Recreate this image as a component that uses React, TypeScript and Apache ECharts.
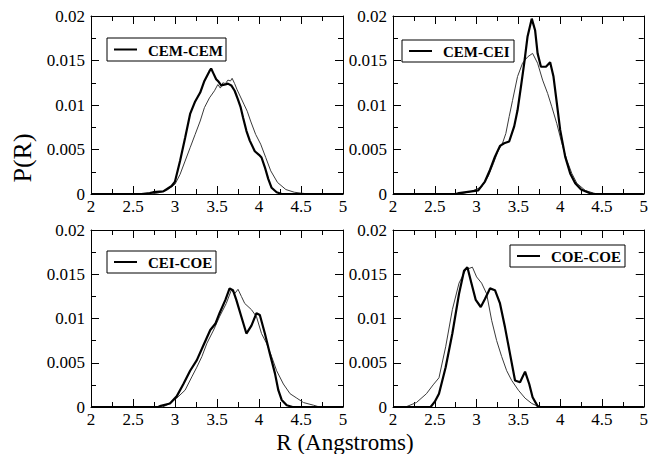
import React, { useEffect, useRef } from "react";
import * as echarts from "echarts";

// Panel labels (legend text for each panel)
const panelLabels = ["CEM-CEM", "CEM-CEI", "CEI-COE", "COE-COE"];

// Axis ranges / ticks
const xMin = 2;
const xMax = 5;
const xInterval = 0.5;
const yMin = 0;
const yMax = 0.02;
const yInterval = 0.005;

// Panel 1: CEM-CEM   [R, P(R)]
const cemCemThick: number[][] = [
  [2.0, 0], [2.6, 0], [2.7, 0.0001], [2.74, 0.0002], [2.86, 0.0003], [2.96, 0.0009], [3.0, 0.0014],
  [3.06, 0.0037], [3.12, 0.0063], [3.18, 0.009], [3.24, 0.0104], [3.3, 0.0114], [3.35, 0.0127],
  [3.41, 0.0138], [3.43, 0.0141], [3.46, 0.0135], [3.49, 0.0129], [3.52, 0.0126], [3.55, 0.0122],
  [3.6, 0.0123], [3.63, 0.0124], [3.67, 0.0122], [3.71, 0.0116], [3.75, 0.0106], [3.78, 0.0098],
  [3.81, 0.0086], [3.85, 0.0071], [3.89, 0.006], [3.95, 0.0048], [4.0, 0.0044], [4.03, 0.0041],
  [4.07, 0.003], [4.11, 0.0017], [4.15, 0.0007], [4.21, 0.0002], [4.27, 0], [5.0, 0],
];
const cemCemThin: number[][] = [
  [2.0, 0], [2.7, 0], [2.79, 0.0001], [2.9, 0.0004], [3.0, 0.0011], [3.06, 0.0022], [3.12, 0.0037],
  [3.18, 0.0052], [3.24, 0.0067], [3.3, 0.0082], [3.35, 0.0097], [3.41, 0.0108], [3.47, 0.0116],
  [3.51, 0.0123], [3.54, 0.0119], [3.57, 0.0125], [3.6, 0.0124], [3.63, 0.0128], [3.66, 0.0127],
  [3.68, 0.013], [3.71, 0.0124], [3.74, 0.0117], [3.78, 0.0109], [3.82, 0.0101], [3.86, 0.0093],
  [3.9, 0.0082], [3.96, 0.0067], [4.02, 0.0056], [4.08, 0.0041], [4.14, 0.0026], [4.22, 0.0013],
  [4.32, 0.0005], [4.42, 0.0002], [4.5, 0.0001], [4.6, 0], [5.0, 0],
];

// Panel 2: CEM-CEI
const cemCeiThick: number[][] = [
  [2.0, 0], [2.75, 0], [2.79, 0.0001], [2.94, 0.0003], [3.02, 0.0004], [3.1, 0.0014], [3.16, 0.0027],
  [3.22, 0.0042], [3.28, 0.0054], [3.33, 0.0057], [3.39, 0.0059], [3.45, 0.0076], [3.49, 0.0094],
  [3.53, 0.012], [3.57, 0.0147], [3.61, 0.0177], [3.66, 0.0197], [3.7, 0.0184], [3.73, 0.0158],
  [3.77, 0.0143], [3.83, 0.0143], [3.88, 0.0148], [3.92, 0.0132], [3.96, 0.0102], [4.0, 0.0072],
  [4.06, 0.0042], [4.12, 0.0023], [4.18, 0.0012], [4.25, 0.0005], [4.35, 0.0001], [4.4, 0], [5.0, 0],
];
const cemCeiThin: number[][] = [
  [2.0, 0], [2.8, 0], [2.94, 0.0003], [3.06, 0.0008], [3.14, 0.002], [3.2, 0.0034], [3.26, 0.0049],
  [3.31, 0.0057], [3.35, 0.0068], [3.39, 0.0087], [3.43, 0.0105], [3.49, 0.0132], [3.55, 0.0147],
  [3.61, 0.0154], [3.67, 0.0158], [3.73, 0.0147], [3.79, 0.0128], [3.85, 0.0113], [3.9, 0.0098],
  [3.96, 0.0079], [4.02, 0.0057], [4.08, 0.0038], [4.14, 0.0023], [4.2, 0.0012], [4.3, 0.0004],
  [4.4, 0.0001], [4.45, 0], [5.0, 0],
];

// Panel 3: CEI-COE
const ceiCoeThick: number[][] = [
  [2.0, 0], [2.8, 0], [2.82, 0.0001], [2.94, 0.0004], [3.02, 0.0012], [3.1, 0.0026], [3.18, 0.0041],
  [3.26, 0.0053], [3.34, 0.007], [3.42, 0.0087], [3.48, 0.0094], [3.53, 0.0106], [3.6, 0.0121],
  [3.65, 0.0134], [3.69, 0.0132], [3.73, 0.0121], [3.79, 0.0102], [3.85, 0.0083], [3.91, 0.0092],
  [3.97, 0.0106], [4.01, 0.0104], [4.07, 0.0083], [4.13, 0.006], [4.19, 0.0038], [4.23, 0.0019],
  [4.27, 0.0008], [4.33, 0.0002], [4.4, 0], [5.0, 0],
];
const ceiCoeThin: number[][] = [
  [2.0, 0], [2.85, 0], [2.9, 0.0002], [3.02, 0.001], [3.12, 0.0019], [3.2, 0.0034], [3.26, 0.0045],
  [3.32, 0.0057], [3.38, 0.0072], [3.46, 0.0087], [3.53, 0.0102], [3.61, 0.0117], [3.67, 0.0132],
  [3.71, 0.0128], [3.75, 0.0133], [3.79, 0.0125], [3.83, 0.0117], [3.91, 0.011], [3.97, 0.0102],
  [4.03, 0.0083], [4.09, 0.0072], [4.15, 0.0057], [4.21, 0.0041], [4.29, 0.0026], [4.37, 0.0015],
  [4.45, 0.001], [4.53, 0.0005], [4.65, 0.0002], [4.72, 0], [5.0, 0],
];

// Panel 4: COE-COE
const coeCoeThick: number[][] = [
  [2.0, 0], [2.45, 0], [2.5, 0.0006], [2.55, 0.0015], [2.63, 0.0045], [2.71, 0.0083], [2.79, 0.0128],
  [2.85, 0.0154], [2.89, 0.0158], [2.93, 0.0143], [2.99, 0.0121], [3.05, 0.0113], [3.1, 0.0122],
  [3.16, 0.0134], [3.22, 0.0132], [3.28, 0.0117], [3.34, 0.009], [3.4, 0.006], [3.46, 0.003],
  [3.52, 0.0028], [3.58, 0.004], [3.63, 0.0026], [3.67, 0.0011], [3.73, 0.0001], [3.76, 0], [5.0, 0],
];
const coeCoeThin: number[][] = [
  [2.0, 0], [2.15, 0], [2.28, 0.0005], [2.4, 0.0015], [2.48, 0.0025], [2.55, 0.0033], [2.63, 0.0068],
  [2.71, 0.011], [2.79, 0.014], [2.87, 0.0155], [2.95, 0.0158], [3.0, 0.0147], [3.06, 0.014],
  [3.12, 0.0128], [3.18, 0.0098], [3.24, 0.0075], [3.3, 0.0057], [3.36, 0.0041], [3.42, 0.003],
  [3.5, 0.0019], [3.58, 0.001], [3.66, 0.0004], [3.73, 0.0001], [3.78, 0], [5.0, 0],
];

const thickSeries = [cemCemThick, cemCeiThick, ceiCoeThick, coeCoeThick];
const thinSeries = [cemCemThin, cemCeiThin, ceiCoeThin, coeCoeThin];

const FONT = "Liberation Serif";

// layout
const grids = [
  { left: 91, top: 16, width: 252, height: 178 },
  { left: 393, top: 16, width: 254, height: 178 },
  { left: 91, top: 230, width: 252, height: 177 },
  { left: 393, top: 230, width: 254, height: 177 },
];
const legendBoxes = [
  { x: 107, y: 38, w: 119, h: 23 },
  { x: 402, y: 40, w: 112, h: 22 },
  { x: 107, y: 251, w: 109, h: 22 },
  { x: 510, y: 245, w: 115, h: 22 },
];

export default function App() {
  const ref = useRef<HTMLDivElement>(null);

  useEffect(() => {
    if (!ref.current) return;
    const chart = echarts.init(ref.current, undefined, { renderer: "svg" });

    const xAxes: any[] = [];
    const yAxes: any[] = [];
    const series: any[] = [];
    const graphic: any[] = [];

    const labelStyle = {
      show: true,
      color: "#000",
      fontFamily: FONT,
      fontSize: 17,
      fontWeight: "normal",
    };

    grids.forEach((g, i) => {
      const common = {
        type: "value",
        gridIndex: i,
        axisLine: { show: true, onZero: false, lineStyle: { color: "#000", width: 1 } },
        axisTick: { show: true, inside: true, length: 8, lineStyle: { color: "#000" } },
        minorTick: { show: true, splitNumber: 2, length: 5, lineStyle: { color: "#000" } },
        splitLine: { show: false },
        minorSplitLine: { show: false },
      };
      xAxes.push({
        ...common,
        position: "bottom",
        min: xMin,
        max: xMax,
        interval: xInterval,
        axisLabel: { ...labelStyle, margin: 4 },
      });
      xAxes.push({
        ...common,
        position: "top",
        min: xMin,
        max: xMax,
        interval: xInterval,
        axisLabel: { show: false },
      });
      yAxes.push({
        ...common,
        position: "left",
        min: yMin,
        max: yMax,
        interval: yInterval,
        axisLabel: { ...labelStyle, margin: 6 },
      });
      yAxes.push({
        ...common,
        position: "right",
        min: yMin,
        max: yMax,
        interval: yInterval,
        axisLabel: { show: false },
      });

      series.push({
        type: "line",
        xAxisIndex: i * 2,
        yAxisIndex: i * 2,
        data: thinSeries[i],
        showSymbol: false,
        symbol: "none",
        lineStyle: { color: "#3a3a3a", width: 1 },
        z: 2,
      });
      series.push({
        type: "line",
        xAxisIndex: i * 2,
        yAxisIndex: i * 2,
        data: thickSeries[i],
        showSymbol: false,
        symbol: "none",
        lineStyle: { color: "#000", width: 2.2 },
        z: 3,
      });

      const b = legendBoxes[i];
      graphic.push({
        type: "rect",
        shape: { x: b.x, y: b.y, width: b.w, height: b.h },
        style: { fill: "#fff", stroke: "#000", lineWidth: 1 },
        z: 10,
      });
      graphic.push({
        type: "line",
        shape: { x1: b.x + 7, y1: b.y + b.h / 2, x2: b.x + 30, y2: b.y + b.h / 2 },
        style: { stroke: "#000", lineWidth: 2 },
        z: 11,
      });
      graphic.push({
        type: "text",
        x: b.x + 41,
        y: b.y + b.h / 2 + 1,
        style: {
          text: panelLabels[i],
          fontFamily: FONT,
          fontWeight: "bold",
          fontSize: 15,
          fill: "#000",
          verticalAlign: "middle",
          align: "left",
        },
        z: 11,
      });
    });

    graphic.push({
      type: "text",
      x: 22,
      y: 158,
      rotation: Math.PI / 2,
      style: {
        text: "P(R)",
        fontFamily: FONT,
        fontSize: 26,
        fill: "#000",
        align: "center",
        verticalAlign: "middle",
      },
    });
    graphic.push({
      type: "text",
      x: 345,
      y: 454,
      style: {
        text: "R (Angstroms)",
        fontFamily: FONT,
        fontSize: 23,
        fill: "#000",
        align: "center",
        verticalAlign: "bottom",
      },
    });

    chart.setOption({
      animation: false,
      backgroundColor: "#fff",
      textStyle: { fontFamily: FONT },
      grid: grids.map((g) => ({ ...g, containLabel: false })),
      xAxis: xAxes,
      yAxis: yAxes,
      series,
      graphic,
    });

    return () => chart.dispose();
  }, []);

  return (
    <div
      ref={ref}
      style={{ position: "fixed", left: 0, top: 0, width: 651, height: 454 }}
    />
  );
}
